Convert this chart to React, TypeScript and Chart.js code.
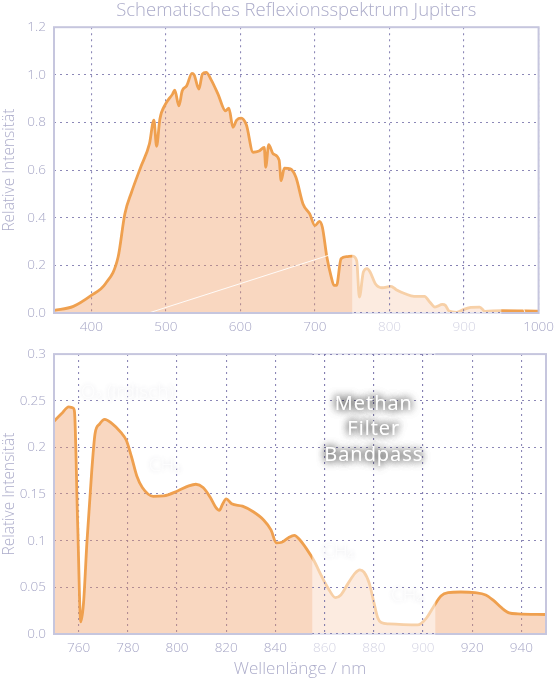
import React, { useEffect, useRef } from 'react';
import { Chart, registerables } from 'chart.js';

Chart.register(...registerables);

// ---------- data ----------
const topWavelength = [350, 376, 400, 419, 436, 445, 454, 466, 478, 484, 487.6, 492, 499.5, 509, 512, 517.5, 522, 528, 535, 538, 544.4, 549, 554, 561, 570, 580, 584.6, 590, 595, 601, 608, 617, 625, 632, 634, 638, 644, 652, 654.6, 659, 667, 674.5, 684, 693, 700, 706, 710, 716, 722, 725.5, 729, 735, 743, 750, 756, 759.6, 765, 770, 774, 781, 790, 802, 809, 821, 833, 847, 854, 861, 871, 875, 880, 890, 899, 909, 921, 928, 949, 1000];
const topIntensity = [0.011, 0.028, 0.074, 0.123, 0.235, 0.416, 0.507, 0.61, 0.71, 0.81, 0.70, 0.814, 0.877, 0.919, 0.936, 0.87, 0.933, 0.954, 1.006, 1.0, 0.94, 1.003, 1.01, 0.978, 0.919, 0.849, 0.86, 0.78, 0.81, 0.818, 0.79, 0.675, 0.68, 0.695, 0.612, 0.707, 0.668, 0.642, 0.556, 0.608, 0.605, 0.57, 0.458, 0.416, 0.367, 0.385, 0.36, 0.235, 0.15, 0.116, 0.116, 0.228, 0.237, 0.239, 0.22, 0.067, 0.172, 0.186, 0.172, 0.123, 0.106, 0.112, 0.098, 0.081, 0.07, 0.07, 0.046, 0.025, 0.036, 0.032, 0.008, 0.003, 0.014, 0.024, 0.025, 0.007, 0.01, 0.008];

const bottomWavelength = [750, 753, 756, 757.6, 758.3, 759.6, 760.9, 762, 763.4, 765.3, 766.7, 768.5, 770.6, 773.5, 777.2, 779.4, 781.5, 783.7, 785.9, 790.3, 794.6, 800.4, 804.8, 807.7, 810.6, 813.5, 815.7, 817.2, 818.6, 820, 822.2, 826.6, 831, 835.3, 838.2, 840.4, 842.6, 845.2, 847.7, 849.9, 852.8, 855.7, 858.6, 861.5, 864.4, 866.6, 869.5, 872.4, 874.3, 876, 878.2, 880.1, 881.6, 883, 886.2, 892, 897.8, 899.3, 901.5, 904.4, 907.3, 910.2, 915.3, 921.1, 925.5, 928.4, 932, 935, 938.6, 950];
const bottomIntensity = [0.228, 0.236, 0.2435, 0.2425, 0.239, 0.12, 0.013, 0.033, 0.099, 0.173, 0.215, 0.225, 0.23, 0.2257, 0.216, 0.2076, 0.19, 0.169, 0.157, 0.1476, 0.148, 0.1535, 0.1588, 0.1605, 0.157, 0.1465, 0.136, 0.1326, 0.1396, 0.1448, 0.1396, 0.137, 0.131, 0.122, 0.1117, 0.0977, 0.0984, 0.103, 0.1057, 0.101, 0.0907, 0.0785, 0.0628, 0.0488, 0.039, 0.0419, 0.054, 0.0652, 0.0687, 0.0663, 0.054, 0.0331, 0.0174, 0.0122, 0.0108, 0.0101, 0.0098, 0.0115, 0.0174, 0.0297, 0.0408, 0.0443, 0.045, 0.0443, 0.0419, 0.0366, 0.0279, 0.0227, 0.0216, 0.0209];

const topXTicks = [400, 500, 600, 700, 800, 900, 1000];
const topYTicks = [0, 0.2, 0.4, 0.6, 0.8, 1.0, 1.2];
const topYLabels = ['0.0', '0.2', '0.4', '0.6', '0.8', '1.0', '1.2'];
const bottomXTicks = [760, 780, 800, 820, 840, 860, 880, 900, 920, 940];
const bottomYTicks = [0, 0.05, 0.1, 0.15, 0.2, 0.25, 0.3];
const bottomYLabels = ['0.0', '0.05', '0.1', '0.15', '0.2', '0.25', '0.3'];

const chartTitle = 'Schematisches Reflexionsspektrum Jupiters';
const yTitle = 'Relative Intensität';
const xTitle = 'Wellenlänge / nm';

// zoom region shown in the top chart and its connector lines
const zoomRange = [750, 950];
const zoomTop = 0.274;
const connectorLines = [
  [477, 0, 750, 0.274],
  [950, 0.274, 982, 0],
];

// methane filter bandpass in the bottom chart
const bandpassRange = [855, 905];
const bandpassLabel = ['Methan', 'Filter', 'Bandpass'];
const bandpassLabelX = 880;
const bandpassLabelY = [0.2463, 0.219, 0.1916];

// faint absorption feature labels
const featureLabels = ['O₂ (irdisch)', 'CH₄', 'CH₄', 'CH₄'];
const featureX = [761, 788.5, 859, 887];
const featureY = [0.259, 0.18, 0.088, 0.041];

// ---------- styles ----------
const FONT = '"Open Sans", Lato, sans-serif';
const LINE = '#efa04f';
const FILL = 'rgba(240,150,90,0.38)';
const GRID = 'rgba(120,115,170,0.85)';
const FRAME = '#c6c6de';
const TICK = '#a6a6c6';
const TITLE = '#acacca';

function scales(opts: any) {
  return {
    x: {
      type: 'linear',
      min: opts.xMin,
      max: opts.xMax,
      afterBuildTicks: (s: any) => {
        s.ticks = opts.xTicks.map((v: number) => ({ value: v }));
      },
      afterFit: (s: any) => {
        s.height = opts.xHeight;
      },
      grid: { color: GRID, lineWidth: 1.1, drawTicks: false },
      border: { display: false, dash: [2, 4] },
      ticks: {
        color: TICK,
        font: { family: FONT, size: 13.5, weight: '300' },
        padding: 6,
        maxRotation: 0,
        autoSkip: false,
        callback: (v: any) => String(v),
      },
      title: {
        display: !!opts.xTitle,
        text: opts.xTitle || '',
        color: TITLE,
        font: { family: FONT, size: 17, weight: '300' },
        padding: { top: 0, bottom: 1 },
      },
    },
    y: {
      type: 'linear',
      min: opts.yMin,
      max: opts.yMax,
      afterBuildTicks: (s: any) => {
        s.ticks = opts.yTicks.map((v: number) => ({ value: v }));
      },
      afterFit: (s: any) => {
        s.width = 54;
      },
      grid: { color: GRID, lineWidth: 1.1, drawTicks: false },
      border: { display: false, dash: [2, 4] },
      ticks: {
        color: TICK,
        font: { family: FONT, size: 13.5, weight: '300' },
        padding: 8,
        autoSkip: false,
        callback: (_v: any, i: number) => opts.yLabels[i],
      },
      title: {
        display: true,
        text: yTitle,
        color: TITLE,
        font: { family: FONT, size: 15.5, weight: '300' },
        padding: { top: 0, bottom: 0 },
      },
    },
  };
}

function makeDecor(kind: 'top' | 'bottom') {
  return {
    id: 'decor-' + kind,
    afterDatasetsDraw(chart: any) {
      const { ctx, chartArea: a, scales: sc } = chart;
      const xs = sc.x;
      const ys = sc.y;
      ctx.save();
      if (kind === 'top') {
        ctx.save();
        ctx.beginPath();
        ctx.rect(a.left, a.top, a.right - a.left, a.bottom - a.top);
        ctx.clip();
        ctx.strokeStyle = 'rgba(255,255,255,0.9)';
        ctx.lineWidth = 1;
        for (const [x1, y1, x2, y2] of connectorLines) {
          ctx.beginPath();
          ctx.moveTo(xs.getPixelForValue(x1), ys.getPixelForValue(y1));
          ctx.lineTo(xs.getPixelForValue(x2), ys.getPixelForValue(y2));
          ctx.stroke();
        }
        ctx.restore();
      }
      // frame around plot area
      ctx.strokeStyle = FRAME;
      ctx.lineWidth = 2;
      ctx.strokeRect(a.left, a.top, a.right - a.left, a.bottom - a.top);

      // translucent highlight region
      let rx0: number, rx1: number, ry0: number;
      if (kind === 'top') {
        rx0 = xs.getPixelForValue(zoomRange[0]);
        rx1 = xs.getPixelForValue(zoomRange[1]);
        ry0 = ys.getPixelForValue(zoomTop);
      } else {
        rx0 = xs.getPixelForValue(bandpassRange[0]);
        rx1 = xs.getPixelForValue(bandpassRange[1]);
        ry0 = a.top - 2;
      }
      const ry1 = a.bottom + 22;
      ctx.fillStyle = 'rgba(255,255,255,0.5)';
      ctx.fillRect(rx0, ry0, rx1 - rx0, ry1 - ry0);
      ctx.save();
      ctx.beginPath();
      ctx.rect(rx0, ry0, rx1 - rx0, ry1 - ry0);
      ctx.clip();
      xs.drawGrid(a);
      ys.drawGrid(a);
      ctx.restore();

      if (kind === 'bottom') {
        // faint feature labels
        ctx.save();
        ctx.font = `300 19px ${FONT}`;
        ctx.textAlign = 'left';
        ctx.textBaseline = 'middle';
        ctx.shadowColor = 'rgba(90,90,120,0.25)';
        ctx.shadowBlur = 4;
        ctx.fillStyle = 'rgba(255,255,255,0.8)';
        featureLabels.forEach((t, i) => {
          ctx.fillText(t, xs.getPixelForValue(featureX[i]), ys.getPixelForValue(featureY[i]));
        });
        ctx.restore();

        // bandpass label
        ctx.save();
        ctx.font = `400 20px ${FONT}`;
        try { (ctx as any).letterSpacing = '1px'; } catch (e) { /* ignore */ }
        ctx.textAlign = 'center';
        ctx.textBaseline = 'middle';
        ctx.fillStyle = '#ffffff';
        ctx.shadowColor = 'rgba(0,0,0,0.75)';
        ctx.shadowBlur = 9;
        for (let k = 0; k < 2; k++) {
          bandpassLabel.forEach((t, i) => {
            ctx.fillText(t, xs.getPixelForValue(bandpassLabelX), ys.getPixelForValue(bandpassLabelY[i]));
          });
        }
        ctx.restore();
      }
      ctx.restore();
    },
  };
}

function dataset(wl: number[], v: number[]) {
  return {
    data: wl.map((x, i) => ({ x, y: v[i] })),
    borderColor: LINE,
    backgroundColor: FILL,
    borderWidth: 2.8,
    fill: 'origin',
    pointRadius: 0,
    cubicInterpolationMode: 'monotone',
    borderJoinStyle: 'round',
  };
}

export default function App() {
  const topRef = useRef<HTMLCanvasElement>(null);
  const bottomRef = useRef<HTMLCanvasElement>(null);

  useEffect(() => {
    Chart.defaults.font.family = FONT;
    const top = new Chart(topRef.current as HTMLCanvasElement, {
      type: 'line',
      data: { datasets: [dataset(topWavelength, topIntensity)] as any },
      options: {
        responsive: false,
        animation: false,
        layout: { padding: { top: 0, right: 14, bottom: 0, left: 0 } },
        plugins: {
          legend: { display: false },
          tooltip: { enabled: false },
          title: {
            display: true,
            fullSize: false,
            text: chartTitle,
            color: TITLE,
            font: { family: FONT, size: 18.5, weight: '300' },
            padding: { top: 0, bottom: 5 },
          },
        },
        scales: scales({
          xMin: 350, xMax: 1000, xTicks: topXTicks, xHeight: 25,
          yMin: 0, yMax: 1.2, yTicks: topYTicks, yLabels: topYLabels,
        }) as any,
      },
      plugins: [makeDecor('top')],
    });
    const bottom = new Chart(bottomRef.current as HTMLCanvasElement, {
      type: 'line',
      data: { datasets: [dataset(bottomWavelength, bottomIntensity)] as any },
      options: {
        responsive: false,
        animation: false,
        layout: { padding: { top: 11, right: 14, bottom: 0, left: 0 } },
        plugins: {
          legend: { display: false },
          tooltip: { enabled: false },
          title: { display: false },
        },
        scales: scales({
          xMin: 750, xMax: 950, xTicks: bottomXTicks, xHeight: 46, xTitle,
          yMin: 0, yMax: 0.3, yTicks: bottomYTicks, yLabels: bottomYLabels,
        }) as any,
      },
      plugins: [makeDecor('bottom')],
    });
    return () => {
      top.destroy();
      bottom.destroy();
    };
  }, []);

  return (
    <div style={{ position: 'absolute', left: 0, top: 0, width: 560, height: 680, background: '#fff' }}>
      <canvas ref={topRef} width={560} height={338} style={{ display: 'block' }} />
      <canvas ref={bottomRef} width={560} height={342} style={{ display: 'block' }} />
    </div>
  );
}
